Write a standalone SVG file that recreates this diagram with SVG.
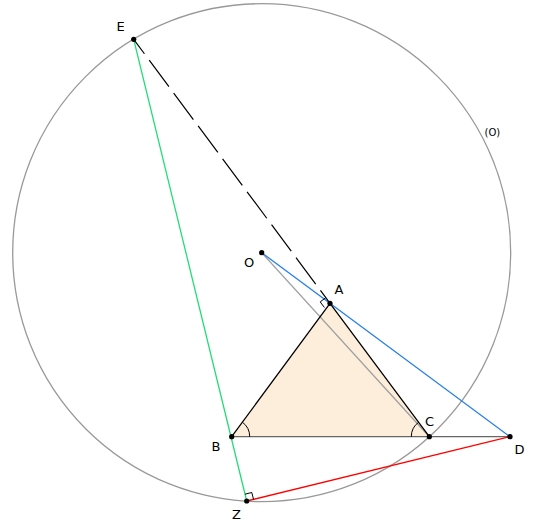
<svg xmlns="http://www.w3.org/2000/svg" width="533" height="526" viewBox="0 0 533 526">
<style>
.lbl{font-family:"DejaVu Sans","Liberation Sans",sans-serif;font-size:13px;fill:#000}
.sm{font-size:10px}
.pt{fill:#000}
.ln{fill:none;stroke-width:1.3;stroke-linecap:round}
.mk{fill:none;stroke:#000;stroke-width:1}
</style>
<rect width="533" height="526" fill="#fff"/>
<g id="triangle">
<polygon points="330,303.3 231.7,436.7 429.3,436.7" fill="#fdeedc" stroke="none"/>
</g>
<g id="circle-O">
<circle cx="261.7" cy="252.7" r="249" fill="none" stroke="#999" stroke-width="1.3"/>
<text class="lbl sm" x="484.5" y="136">(O)</text>
</g>
<g id="connectors">
<line class="ln" x1="261.7" y1="252.7" x2="429.3" y2="436.7" stroke="#a0a0a0"/>
<line class="ln" x1="231.7" y1="436.7" x2="510" y2="436.7" stroke="#666"/>
<line class="ln" x1="133.7" y1="39.3" x2="246.7" y2="501" stroke="#22dd77"/>
<line class="ln" x1="261.7" y1="252.7" x2="510" y2="436.7" stroke="#2a80ea"/>
<line x1="133.7" y1="39.3" x2="330" y2="303.3" stroke="#000" stroke-width="1.2" stroke-dasharray="33 8" stroke-dashoffset="15"/>
<line class="ln" x1="246.7" y1="501" x2="510" y2="436.7" stroke="#ff0000" stroke-width="2"/>
<line class="ln" x1="330" y1="303.3" x2="231.7" y2="436.7" stroke="#000" stroke-width="1.5"/>
<line class="ln" x1="330" y1="303.3" x2="429.3" y2="436.7" stroke="#000" stroke-width="1.5"/>
<path class="mk" d="M325.8,297.7 L320.2,301.9 L324.4,307.5"/>
<path class="mk" d="M245,494.2 L251.8,492.5 L253.5,499.3"/>
<path class="mk" d="M249.7,436.7 A18,18 0 0 0 242.4,422.2"/>
<path class="mk" d="M411.3,436.7 A18,18 0 0 1 418.5,422.3"/>
</g>
<g id="E"><circle class="pt" cx="133.7" cy="39.3" r="2.6"/><text class="lbl" x="116.5" y="30.5">E</text></g>
<g id="O"><circle class="pt" cx="261.7" cy="252.7" r="2.6"/><text class="lbl" x="244" y="266.7">O</text></g>
<g id="A"><circle class="pt" cx="330" cy="303.3" r="2.6"/><text class="lbl" x="334.5" y="294">A</text></g>
<g id="B"><circle class="pt" cx="231.7" cy="436.7" r="2.6"/><text class="lbl" x="211.5" y="450.7">B</text></g>
<g id="C"><circle class="pt" cx="429.3" cy="436.7" r="2.6"/><text class="lbl" x="425" y="426">C</text></g>
<g id="D"><circle class="pt" cx="510" cy="436.7" r="2.6"/><text class="lbl" x="514.5" y="454.3">D</text></g>
<g id="Z"><circle class="pt" cx="246.7" cy="501" r="2.6"/><text class="lbl" x="232" y="518.5">Z</text></g>
</svg>
